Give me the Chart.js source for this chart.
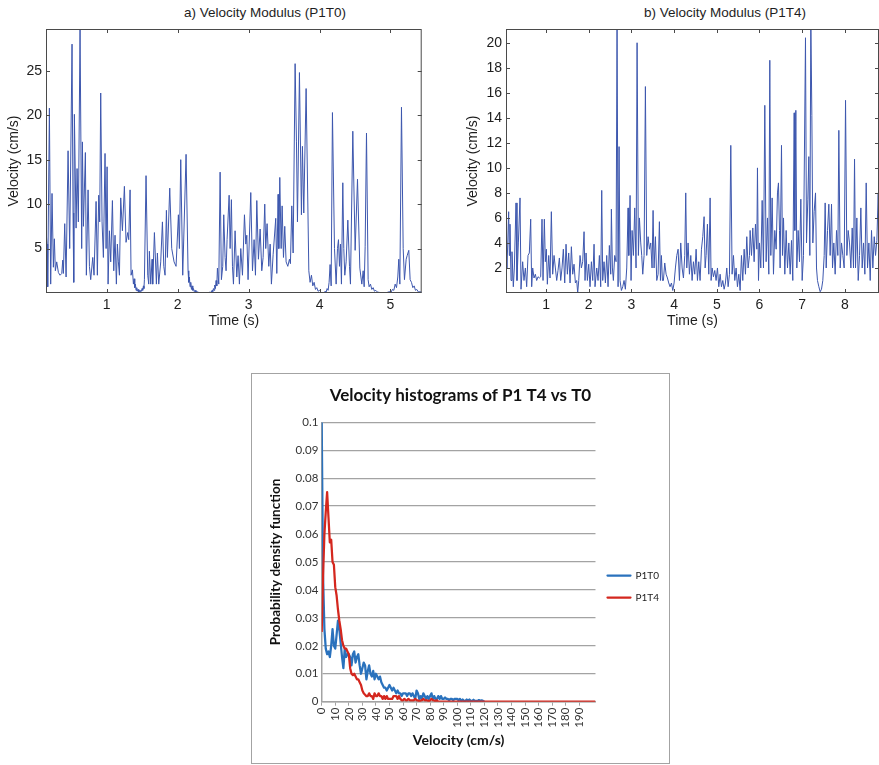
<!DOCTYPE html>
<html lang="en">
<head>
<meta charset="UTF-8">
<title>Velocity modulus and velocity histograms</title>
<script src="https://cdn.jsdelivr.net/npm/chart.js@4"></script>
<style>
  body { margin: 0; background: #fff; }
  #page { position: relative; width: 879px; height: 765px; overflow: hidden; font-family: "Liberation Sans", Arial, sans-serif; }
  .panel-title { position: absolute; top: 5px; width: 240px; line-height: 16px; text-align: center; font-size: 13.5px; color: #1e1e1e; }
  #titleA { left: 145px; }
  #titleB { left: 605px; }
  #chartA { position: absolute; left: 0; top: 0; }
  #chartB { position: absolute; left: 450px; top: 0; }
  #histFrame { position: absolute; left: 251px; top: 373px; width: 417px; height: 389px; border: 1px solid #a3a3a3; }
  #chartC { position: absolute; left: 0; top: 0; }
</style>
</head>
<body>
<div id="page">
  <div class="panel-title" id="titleA">a) Velocity Modulus (P1T0)</div>
  <div class="panel-title" id="titleB">b) Velocity Modulus (P1T4)</div>
  <canvas id="chartA" width="430" height="330"></canvas>
  <canvas id="chartB" width="429" height="330"></canvas>
  <div id="histFrame"><canvas id="chartC" width="417" height="389"></canvas></div>
</div>
<script>
// ---- a) velocity modulus P1T0: time (s) / velocity (cm/s)
const timeA = [
  0.146,0.160,0.169,0.193,0.211,0.230,0.249,0.263,0.277,0.296,
  0.320,0.343,0.367,0.381,0.390,0.409,0.428,0.456,0.479,0.512,
  0.526,0.536,0.545,0.569,0.583,0.601,0.625,0.648,0.658,0.672,
  0.700,0.714,0.738,0.757,0.775,0.804,0.822,0.851,0.869,0.888,
  0.902,0.916,0.935,0.954,0.977,0.992,1.006,1.020,1.039,1.057,
  1.081,1.100,1.118,1.137,1.151,1.165,1.180,1.198,1.222,1.250,
  1.273,1.297,1.311,1.330,1.344,1.363,1.377,1.387,1.396,1.405,
  1.414,1.424,1.433,1.443,1.452,1.461,1.470,1.480,1.490,1.499,
  1.508,1.518,1.525,1.532,1.555,1.579,1.593,1.602,1.621,1.640,
  1.649,1.673,1.701,1.715,1.734,1.762,1.786,1.805,1.823,1.842,
  1.856,1.889,1.917,1.950,1.978,2.011,2.025,2.044,2.072,2.119,
  2.147,2.157,2.166,2.175,2.185,2.195,2.204,2.214,2.223,2.235,
  2.246,2.258,2.270,2.317,2.364,2.411,2.458,2.472,2.486,2.495,
  2.505,2.514,2.523,2.533,2.542,2.552,2.561,2.580,2.599,2.617,
  2.636,2.650,2.669,2.683,2.697,2.726,2.740,2.758,2.773,2.787,
  2.810,2.834,2.852,2.871,2.890,2.914,2.942,2.961,2.975,2.993,
  3.031,3.055,3.078,3.097,3.116,3.139,3.163,3.186,3.205,3.228,
  3.242,3.261,3.285,3.304,3.322,3.346,3.383,3.398,3.416,3.426,
  3.440,3.459,3.473,3.492,3.510,3.529,3.553,3.576,3.590,3.609,
  3.628,3.656,3.675,3.689,3.717,3.745,3.759,3.778,3.811,3.849,
  3.867,3.886,3.905,3.924,3.943,3.961,3.980,3.999,4.027,4.055,
  4.079,4.093,4.107,4.121,4.135,4.149,4.164,4.182,4.211,4.234,
  4.253,4.267,4.281,4.295,4.309,4.328,4.342,4.356,4.375,4.399,
  4.422,4.436,4.469,4.502,4.535,4.568,4.596,4.615,4.629,4.643,
  4.662,4.685,4.699,4.718,4.737,4.756,4.774,4.793,4.817,4.854,
  4.901,4.948,4.986,5.009,5.028,5.047,5.066,5.085,5.103,5.117,
  5.132,5.155,5.179,5.197,5.221,5.235,5.258,5.277,5.296,5.315,
  5.334,5.352,5.371,5.395,5.418,5.442
];
const velA = [
  6.9,5.5,0.7,20.8,1.0,11.2,2.9,6.1,2.5,3.5,
  2.3,2.0,2.2,3.7,2.2,7.8,1.8,16.0,5.0,28.0,
  9.0,1.2,20.1,7.3,14.0,8.0,29.7,5.0,17.0,7.5,
  15.8,2.0,11.6,3.0,1.5,4.0,2.0,10.3,2.0,11.0,
  8.0,22.5,8.0,4.0,15.7,5.0,14.2,1.0,7.0,3.5,
  10.4,2.5,6.5,1.0,5.5,3.5,2.0,10.7,7.0,12.0,
  5.7,6.8,6.0,11.6,2.0,2.6,1.0,1.6,0.6,1.0,
  0.3,0.6,0.2,0.4,0.1,0.3,0.1,0.3,0.2,0.5,
  0.3,0.8,0.5,1.5,13.2,2.0,1.0,4.7,1.0,3.8,
  1.0,6.8,1.0,4.5,1.0,3.5,8.0,3.0,2.0,9.3,
  4.0,11.8,5.0,3.5,3.0,8.8,5.0,15.0,2.0,15.6,
  2.5,1.2,1.8,0.7,1.2,0.4,0.8,0.3,0.5,0.15,
  0.3,0.1,0.15,0.0,0.0,0.0,0.1,0.05,0.3,0.15,
  0.5,0.3,0.9,0.5,1.4,0.8,2.8,1.0,13.6,1.5,
  3.0,8.8,4.0,2.5,6.0,11.0,5.0,10.5,3.0,1.0,
  7.0,1.8,4.2,1.0,5.0,2.0,8.8,5.5,6.5,1.5,
  11.3,2.5,6.0,2.0,10.4,3.8,7.2,2.5,4.0,10.0,
  5.0,7.8,3.0,5.5,1.0,4.3,8.4,2.2,11.1,5.0,
  13.0,5.0,9.8,4.0,7.5,3.5,3.0,3.8,3.3,9.8,
  4.5,25.8,17.0,8.0,24.8,8.8,16.5,9.0,23.0,2.5,
  1.2,2.0,0.8,1.2,0.4,0.6,0.2,0.3,0.05,0.0,
  0.2,0.1,0.5,0.3,1.2,3.2,0.8,20.3,5.0,1.0,
  5.0,6.0,3.0,5.5,1.0,12.4,5.0,2.0,3.5,8.2,
  3.0,1.0,18.2,4.8,12.8,2.8,1.0,2.5,0.7,5.2,
  18.0,1.5,0.7,1.0,0.4,0.6,0.2,0.3,0.1,0.05,
  0.0,0.05,0.15,0.1,0.4,0.3,1.0,0.6,1.8,3.8,
  1.0,20.9,5.0,1.5,3.8,4.2,4.8,1.5,1.2,0.6,
  0.8,0.3,0.4,0.1,0.15,0.05
];
const timeTicksA = [1, 2, 3, 4, 5];
const velTicksA = [5, 10, 15, 20, 25];

// ---- b) velocity modulus P1T4
const timeB = [
  0.063,0.086,0.125,0.141,0.156,0.180,0.203,0.234,0.258,0.297,
  0.320,0.352,0.391,0.414,0.453,0.484,0.516,0.547,0.578,0.609,
  0.641,0.664,0.688,0.719,0.750,0.781,0.813,0.844,0.875,0.906,
  0.930,0.961,0.984,1.008,1.031,1.063,1.094,1.125,1.156,1.188,
  1.219,1.250,1.281,1.313,1.344,1.375,1.406,1.438,1.469,1.500,
  1.531,1.563,1.594,1.625,1.656,1.688,1.719,1.742,1.766,1.797,
  1.828,1.859,1.891,1.914,1.938,1.969,2.000,2.031,2.063,2.094,
  2.125,2.148,2.188,2.219,2.250,2.281,2.305,2.328,2.359,2.391,
  2.422,2.453,2.484,2.516,2.531,2.555,2.578,2.609,2.641,2.664,
  2.688,2.711,2.734,2.766,2.797,2.828,2.859,2.891,2.922,2.938,
  2.969,2.992,3.016,3.047,3.078,3.109,3.133,3.164,3.188,3.219,
  3.242,3.266,3.297,3.328,3.359,3.391,3.422,3.453,3.484,3.508,
  3.531,3.563,3.594,3.625,3.656,3.680,3.703,3.727,3.750,3.781,
  3.813,3.844,3.875,3.906,3.938,3.969,4.000,4.031,4.063,4.094,
  4.125,4.156,4.188,4.219,4.250,4.273,4.297,4.328,4.359,4.391,
  4.422,4.453,4.484,4.516,4.547,4.578,4.609,4.641,4.672,4.703,
  4.727,4.750,4.781,4.813,4.844,4.867,4.891,4.922,4.953,4.984,
  5.016,5.047,5.078,5.109,5.141,5.172,5.203,5.234,5.266,5.297,
  5.328,5.359,5.391,5.422,5.453,5.484,5.516,5.547,5.578,5.609,
  5.641,5.672,5.703,5.734,5.766,5.781,5.813,5.844,5.875,5.906,
  5.938,5.953,5.977,6.000,6.031,6.063,6.094,6.125,6.156,6.188,
  6.219,6.242,6.266,6.297,6.328,6.359,6.391,6.422,6.445,6.469,
  6.484,6.516,6.539,6.563,6.594,6.625,6.656,6.688,6.719,6.750,
  6.781,6.813,6.828,6.852,6.875,6.906,6.938,6.969,7.000,7.031,
  7.078,7.102,7.133,7.156,7.180,7.203,7.227,7.250,7.281,7.313,
  7.336,7.359,7.391,7.422,7.453,7.484,7.516,7.539,7.563,7.594,
  7.625,7.656,7.688,7.711,7.742,7.773,7.805,7.836,7.859,7.891,
  7.922,7.953,7.984,8.016,8.047,8.078,8.109,8.141,8.172,8.203,
  8.227,8.250,8.281,8.313,8.344,8.375,8.406,8.438,8.469,8.500,
  8.531,8.563,8.594,8.625,8.656,8.688,8.719,8.750,8.781,8.805
];
const velB = [
  4.0,2.0,6.5,3.0,5.5,1.0,3.3,0.5,2.0,7.2,
  1.0,4.0,7.6,0.3,2.5,1.0,2.0,0.5,3.0,3.2,
  5.9,0.5,2.0,1.2,1.5,1.0,1.3,1.2,1.3,5.9,
  1.0,5.9,2.5,3.5,0.7,3.0,1.2,6.5,1.5,3.0,
  2.0,1.0,1.8,2.8,1.0,2.0,3.5,0.8,3.9,1.5,
  3.2,0.8,3.7,1.5,2.3,0.8,1.0,0.0,1.0,3.0,
  2.0,2.5,4.9,1.0,3.2,1.0,2.3,0.5,2.5,1.0,
  3.9,0.5,2.0,1.0,3.0,0.5,8.2,1.0,2.5,0.8,
  3.0,0.5,3.8,1.5,6.7,2.0,1.0,3.0,2.5,22.0,
  0.5,11.7,1.0,0.2,0.5,1.0,0.3,2.0,6.8,3.0,
  7.8,1.0,5.0,3.0,6.8,2.0,20.0,3.0,6.0,4.0,
  3.0,1.5,3.0,16.5,3.0,4.5,3.5,4.0,2.0,6.6,
  2.0,4.5,1.0,1.5,5.7,1.0,3.0,1.0,1.0,2.4,
  1.5,1.2,0.8,0.5,0.8,0.2,0.8,2.0,3.0,3.5,
  1.0,4.0,2.0,1.2,3.0,8.0,2.0,4.0,1.5,3.0,
  1.0,2.5,1.5,3.5,1.0,2.5,1.0,3.5,4.5,6.1,
  2.0,3.0,5.5,1.5,7.6,1.0,2.0,1.3,1.8,1.0,
  2.0,0.5,1.5,0.5,1.0,0.3,0.8,2.0,0.5,1.5,
  11.8,1.5,3.0,1.0,2.0,0.5,1.5,0.2,3.0,1.0,
  3.5,1.5,4.5,2.0,3.0,5.0,3.0,5.2,2.5,5.5,
  3.5,10.0,1.0,4.0,2.0,7.4,2.0,15.0,2.5,6.0,
  1.5,18.6,3.0,7.6,1.5,5.0,3.5,8.0,8.8,5.0,
  2.0,11.8,3.0,6.0,1.5,5.0,2.0,4.0,1.5,4.2,
  1.0,14.4,5.0,14.6,2.0,5.0,2.5,7.5,1.0,3.0,
  20.4,4.0,7.5,10.9,3.0,22.0,14.2,4.0,6.5,8.0,
  2.0,1.0,0.5,0.1,0.3,1.0,3.0,7.2,2.0,5.0,
  7.1,3.0,7.1,2.0,4.0,1.5,5.0,3.0,13.0,2.0,
  4.0,3.0,2.0,15.4,3.0,5.0,4.0,2.0,5.2,2.0,
  10.7,2.0,6.0,1.0,3.0,6.8,2.0,4.0,1.5,8.8,
  2.0,4.0,1.0,5.0,2.0,4.5,3.0,4.2,8.0,4.0
];
const timeTicksB = [1, 2, 3, 4, 5, 6, 7, 8];
const velTicksB = [2, 4, 6, 8, 10, 12, 14, 16, 18, 20];

// ---- c) velocity histograms, one value per 1 cm/s bin starting at 0
const histT0 = [
  0.100,0.045,0.026,0.019,0.017,0.018,0.016,0.020,0.026,0.020,
  0.019,0.024,0.029,0.026,0.021,0.016,0.012,0.019,0.016,0.017,
  0.017,0.016,0.013,0.017,0.018,0.014,0.016,0.017,0.013,0.010,
  0.012,0.014,0.013,0.008,0.011,0.013,0.010,0.009,0.011,0.008,
  0.010,0.009,0.008,0.009,0.007,0.006,0.005,0.005,0.004,0.005,
  0.006,0.005,0.004,0.005,0.004,0.003,0.004,0.003,0.003,0.002,
  0.003,0.003,0.003,0.002,0.003,0.003,0.002,0.003,0.002,0.001,
  0.004,0.003,0.001,0.002,0.001,0.003,0.002,0.001,0.002,0.001,
  0.002,0.003,0.001,0.002,0.001,0.001,0.002,0.001,0.002,0.001,
  0.001,0.0015,0.001,0.001,0.0005,0.001,0.001,0.0005,0.001,0.001,
  0.001,0.0005,0.001,0.0003,0.0008,0.0003,0.0003,0.0008,0.0003,0.0008,
  0.0003,0.0003,0.0007,0.0003,0.0003,0.0003,0.0006,0.0003,0.0005,0.0003,
  0.0
];
const histT4 = [
  0.025,0.045,0.060,0.068,0.075,0.066,0.057,0.058,0.050,0.049,
  0.041,0.038,0.033,0.029,0.026,0.022,0.020,0.019,0.019,0.018,
  0.017,0.012,0.010,0.0095,0.010,0.009,0.008,0.008,0.007,0.006,
  0.004,0.003,0.0025,0.002,0.002,0.003,0.002,0.002,0.001,0.003,
  0.002,0.002,0.003,0.002,0.002,0.001,0.002,0.001,0.002,0.001,
  0.001,0.001,0.001,0.002,0.002,0.002,0.001,0.002,0.001,0.0005,
  0.0005,0.001,0.0005,0.0005,0.001,0.0005,0.0005,0.0005,0.0005,0.001,
  0.0005,0.0005,0.0,0.0005,0.0005,0.001,0.0005,0.0005,0.0005,0.0,
  0.0005,0.001,0.0005,0.0005,0.0,0.0005,0.0,0.0,0.0,0.0,
  0.0
];
const histMaxVelocity = 202;   // last bin of the x axis, both series are 0 there
const histVelTicks = [0,10,20,30,40,50,60,70,80,90,100,110,120,130,140,150,160,170,180,190];
const histPdfTicks = [0,0.01,0.02,0.03,0.04,0.05,0.06,0.07,0.08,0.09,0.1];
const histPdfLabels = ['0','0.01','0.02','0.03','0.04','0.05','0.06','0.07','0.08','0.09','0.1'];

Chart.defaults.font.family = '"Liberation Sans", Arial, sans-serif';
Chart.defaults.color = '#1e1e1e';

// matlab style axes box with the tick marks pointing inwards
const matlabBox = {
  id: 'matlabBox',
  afterDraw(chart, args, opts) {
    const { ctx, chartArea: a, scales: { x, y } } = chart;
    ctx.save();
    ctx.strokeStyle = opts.color;
    ctx.lineWidth = 1;
    ctx.strokeRect(a.left + 0.5, a.top + 0.5, a.width - 1, a.height - 1);
    ctx.beginPath();
    x.ticks.forEach(t => {
      const px = Math.round(x.getPixelForValue(t.value)) + 0.5;
      ctx.moveTo(px, a.bottom); ctx.lineTo(px, a.bottom - opts.len);
      ctx.moveTo(px, a.top); ctx.lineTo(px, a.top + opts.len);
    });
    y.ticks.forEach(t => {
      const py = Math.round(y.getPixelForValue(t.value)) + 0.5;
      ctx.moveTo(a.left, py); ctx.lineTo(a.left + opts.len, py);
      ctx.moveTo(a.right, py); ctx.lineTo(a.right - opts.len, py);
    });
    ctx.stroke();
    ctx.restore();
  }
};

function velocityChart(id, times, speeds, cfg) {
  return new Chart(document.getElementById(id), {
    type: 'line',
    data: {
      datasets: [{
        data: times.map((t, i) => ({ x: t, y: speeds[i] })),
        borderColor: '#3d57ae',
        borderWidth: 1,
        pointRadius: 0,
        tension: 0
      }]
    },
    options: {
      responsive: false,
      animation: false,
      events: [],
      layout: { padding: { top: 29, right: cfg.padRight, left: 0, bottom: 0 } },
      plugins: {
        legend: { display: false },
        tooltip: { enabled: false },
        matlabBox: { color: '#4a4a4a', len: 4 }
      },
      scales: {
        x: {
          type: 'linear',
          min: cfg.xMin,
          max: cfg.xMax,
          afterBuildTicks: s => { s.ticks = cfg.xTicks.map(v => ({ value: v })); },
          afterFit: s => { s.height = 37; },
          grid: { display: false, drawTicks: false },
          border: { display: false },
          ticks: { padding: 4, maxRotation: 0, autoSkip: false, font: { size: 14 }, callback: v => String(v) },
          title: { display: true, text: 'Time (s)', font: { size: 14 }, padding: 0 }
        },
        y: {
          min: 0,
          max: cfg.yMax,
          afterBuildTicks: s => { s.ticks = cfg.yTicks.map(v => ({ value: v })); },
          afterFit: s => { s.width = cfg.axisWidth; },
          grid: { display: false, drawTicks: false },
          border: { display: false },
          ticks: { padding: 4, autoSkip: false, font: { size: 14 }, callback: v => String(v) },
          title: { display: true, text: 'Velocity (cm/s)', font: { size: 14 }, padding: { top: cfg.titlePad, bottom: 0 } }
        }
      }
    },
    plugins: [matlabBox]
  });
}

velocityChart('chartA', timeA, velA, {
  xMin: 0.145, xMax: 5.44, yMax: 29.7, xTicks: timeTicksA, yTicks: velTicksA,
  axisWidth: 46, padRight: 8.3, titlePad: 5.6
});
velocityChart('chartB', timeB, velB, {
  xMin: 0.0625, xMax: 8.8, yMax: 21.1, xTicks: timeTicksB, yTicks: velTicksB,
  axisWidth: 56, padRight: 0, titlePad: 14.6
});

// ---- c) histogram chart, excel look
const excelGrey = '#a3a3a3';
const lato = (size, weight) => ({ family: 'Lato, "Open Sans", sans-serif', size: size, weight: weight || 'normal' });

new Chart(document.getElementById('chartC'), {
  type: 'line',
  data: {
    datasets: [
      {
        label: 'P1T0',
        data: histT0.map((p, i) => ({ x: i, y: p })),
        borderColor: '#2a72bd',
        backgroundColor: '#2a72bd',
        borderWidth: 2.25,
        borderJoinStyle: 'round',
        pointRadius: 0,
        tension: 0,
        order: 1
      },
      {
        label: 'P1T4',
        data: histT4.map((p, i) => ({ x: i, y: p })).concat([{ x: histMaxVelocity, y: 0 }]),
        borderColor: '#d4271e',
        backgroundColor: '#d4271e',
        borderWidth: 2.25,
        borderJoinStyle: 'round',
        pointRadius: 0,
        tension: 0,
        order: 0
      }
    ]
  },
  options: {
    responsive: false,
    animation: false,
    events: [],
    layout: { padding: 0 },
    plugins: {
      tooltip: { enabled: false },
      title: {
        display: true,
        text: 'Velocity histograms of P1 T4 vs T0',
        color: '#111',
        font: lato(17, 'bold'),
        padding: { top: 11.8, bottom: 16.1 }
      },
      legend: {
        position: 'right',
        // empty legend title only pushes the two entries down to where excel put them
        title: { display: true, text: ' ', font: lato(10), padding: { top: 0, bottom: 24 } },
        labels: {
          boxWidth: 23, boxHeight: 0, padding: 12, color: '#222', font: lato(10),
          sort: (a, b) => a.datasetIndex - b.datasetIndex
        }
      }
    },
    scales: {
      x: {
        type: 'linear',
        min: 0,
        max: histMaxVelocity,
        afterBuildTicks: s => { s.ticks = histVelTicks.map(v => ({ value: v })); },
        afterFit: s => { s.height = 61.3; },
        grid: { display: true, drawOnChartArea: false, drawTicks: true, tickLength: 4, color: excelGrey, lineWidth: 1 },
        border: { color: excelGrey, width: 1.5 },
        ticks: { minRotation: 90, maxRotation: 90, padding: 2, autoSkip: false, color: '#333', font: lato(11.5), callback: v => String(v) },
        title: { display: true, text: 'Velocity (cm/s)', color: '#111', font: lato(14, 'bold'), padding: { top: 0, bottom: 14.6 } }
      },
      y: {
        min: 0,
        max: 0.1,
        afterBuildTicks: s => { s.ticks = histPdfTicks.map(v => ({ value: v })); },
        afterFit: s => { s.width = 69.7; },
        grid: { color: excelGrey, lineWidth: 1.25, drawTicks: false },
        border: { color: excelGrey, width: 1.5 },
        ticks: { padding: 3.4, autoSkip: false, color: '#333', font: lato(11.5), callback: (v, i) => histPdfLabels[i] },
        title: { display: true, text: 'Probability density function', color: '#111', font: lato(13.5, 'bold'), padding: { top: 15.6, bottom: 0 } }
      }
    }
  }
});
</script>
</body>
</html>
